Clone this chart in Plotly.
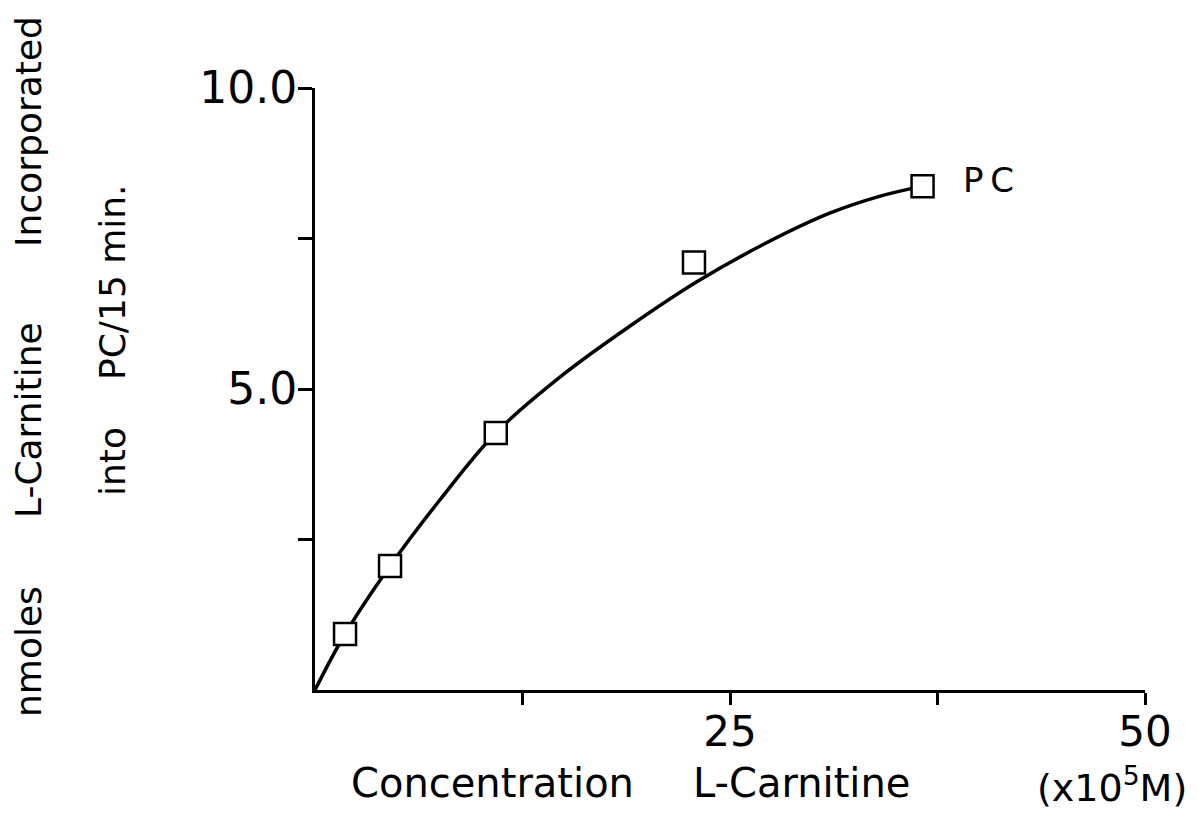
import plotly.graph_objects as go

# Data (x in 10^-5 M, y in nmoles)
conc = [1.81, 4.52, 10.89, 22.83, 36.6]
pc_vals = [0.93, 2.06, 4.27, 7.10, 8.37]

# Hand-drawn smooth curve through the data
curve_x = [0, 1.81, 4.52, 7.53, 10.89, 15.0, 19.0, 23.0, 27.0, 31.0, 34.0, 36.6]
curve_y = [0, 0.93, 2.06, 3.16, 4.27, 5.25, 6.05, 6.78, 7.40, 7.92, 8.20, 8.37]

x_tickvals = [12.5, 25, 37.5, 50]
x_ticktext = ["", "25", "", "50"]
y_tickvals = [2.5, 5.0, 7.5, 10.0]
y_ticktext = ["", "5.0", "", "10.0"]

FONT = "DejaVu Sans"

# plot area in pixels: x 315..1145, y 88..690
def px(x):
    return (x - 315) / 830

def py(y):
    return (690 - y) / 602

fig = go.Figure()
fig.add_trace(go.Scatter(x=curve_x, y=curve_y, mode="lines",
                         line=dict(color="black", width=3.5, shape="spline", smoothing=1.0),
                         showlegend=False, hoverinfo="skip"))
fig.add_trace(go.Scatter(x=conc, y=pc_vals, mode="markers",
                         marker=dict(symbol="square", size=22, color="white",
                                     line=dict(color="black", width=2.5)),
                         showlegend=False, cliponaxis=False))

words = [
    # (text, x px, y px, angle, size)
    ("Concentration", 492, 783, 0, 40),
    ("L-Carnitine", 801, 783, 0, 40),
    ("(x10<sup>5</sup>M)", 1112, 785, 0, 38),
    ("Incorporated", 28, 132, -90, 36),
    ("L-Carnitine", 28, 420, -90, 36),
    ("nmoles", 28, 652, -90, 36),
    ("PC/15 min.", 112, 282, -90, 36),
    ("into", 112, 462, -90, 36),
]

annotations = [
    dict(text="P\u2009C", x=36.6, y=8.37, xref="x", yref="y", xanchor="left",
         xshift=38, yshift=6, showarrow=False, font=dict(size=34, family=FONT))
]
for t, x, y, ang, s in words:
    annotations.append(dict(text=t, x=px(x), y=py(y), xref="paper", yref="paper",
                            xanchor="center", yanchor="middle", textangle=ang,
                            showarrow=False, font=dict(size=s, family=FONT)))

fig.update_layout(
    width=1197, height=825,
    margin=dict(l=315, r=52, t=88, b=135),
    paper_bgcolor="white", plot_bgcolor="white",
    font=dict(family=FONT, color="black"),
    xaxis=dict(range=[0, 50], showgrid=False, zeroline=False, showline=True,
               linecolor="black", linewidth=3, ticks="outside", ticklen=12,
               tickwidth=2.5, tickcolor="black", tickvals=x_tickvals,
               ticktext=x_ticktext, tickfont=dict(size=42, family=FONT),
               ticklabelstandoff=-9),
    yaxis=dict(range=[0, 10], showgrid=False, zeroline=False, showline=True,
               linecolor="black", linewidth=3, ticks="outside", ticklen=14,
               tickwidth=2.5, tickcolor="black", tickvals=y_tickvals,
               ticktext=y_ticktext, tickfont=dict(size=44, family=FONT),
               ticklabelstandoff=-8),
    annotations=annotations,
)

fig.write_html("out.html")
